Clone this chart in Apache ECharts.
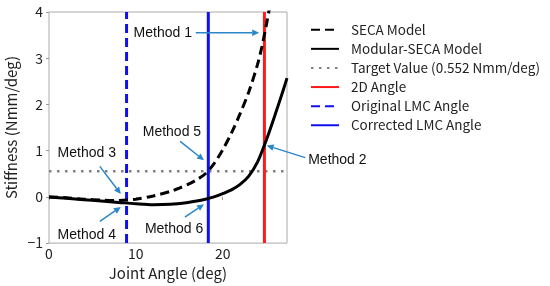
<!DOCTYPE html>
<html><head><meta charset="utf-8">
<script src="https://cdn.jsdelivr.net/npm/echarts@6/dist/echarts.min.js"></script>
<style>html,body{margin:0;padding:0;background:#fff}#c{width:550px;height:286px}</style>
</head><body><div id="c"></div>
<script>
// Data
const secaX = [0, 2, 4, 6, 8, 10, 12, 14, 15, 16, 17, 18, 19, 20, 21, 22, 23, 24, 24.5, 25, 25.4];
const secaY = [0, -0.02, -0.05, -0.07, -0.08, -0.05, 0.02, 0.12, 0.19, 0.27, 0.37, 0.5, 0.72, 1.02, 1.38, 1.8, 2.27, 2.86, 3.24, 3.7, 4.1];
const modX = [0, 2, 4, 6, 8, 10, 12, 14, 16, 17, 18, 19, 20, 21, 22, 23, 24, 25, 26, 27, 27.4];
const modY = [0, -0.03, -0.06, -0.09, -0.12, -0.15, -0.17, -0.16, -0.12, -0.09, -0.05, 0.0, 0.07, 0.15, 0.27, 0.45, 0.75, 1.22, 1.76, 2.33, 2.57];
const targetValue = 0.552;
const angle2D = 24.8;
const originalLMC = 8.93;
const correctedLMC = 18.34;
const xTicks = [0, 10, 20];
const yTicks = [-1, 0, 1, 2, 3, 4];
const xRange = [0, 27.4];
const yRange = [-1, 4];
// Annotation texts and arrow points, in data coordinates
const methodNames = ['Method 1', 'Method 2', 'Method 3', 'Method 4', 'Method 5', 'Method 6'];
const methodTextPos = [[13.1, 3.55], [33.2, 0.79], [4.35, 0.94], [4.35, -0.83], [14.15, 1.41], [14.4, -0.70]];
const methodArrowFrom = [[16.9, 3.55], [29.5, 0.85], [5.85, 0.66], [5.85, -0.53], [15.1, 1.2], [15.65, -0.44]];
const methodArrowTo = [[24.2, 3.55], [25.06, 1.11], [8.27, 0.06], [8.27, -0.22], [17.85, 0.79], [17.85, -0.16]];

const zip = (xs, ys) => xs.map((x, i) => [x, ys[i]]);
const fontMain = '"Noto Sans CJK JP", "Noto Sans", sans-serif';
const arrowColor = '#2a86c8';

const chart = echarts.init(document.getElementById('c'), null, {renderer: 'canvas'});
chart.setOption({
  animation: false,
  backgroundColor: '#fff',
  grid: {left: 49, top: 12, right: 263, bottom: 42, show: true, borderColor: '#aaaaaa', borderWidth: 1},
  legend: {
    orient: 'vertical', left: 305, top: 18, itemWidth: 28, itemHeight: 14, itemGap: 5.6,
    itemStyle: {color: 'rgba(0,0,0,0)', borderColor: 'rgba(0,0,0,0)', borderWidth: 0},
    textStyle: {fontFamily: fontMain, fontSize: 13.5, color: '#222', padding: [0, 0, 0, 7]},
    data: ['SECA Model', 'Modular-SECA Model', 'Target Value (0.552 Nmm/deg)', '2D Angle', 'Original LMC Angle', 'Corrected LMC Angle']
  },
  xAxis: {
    type: 'value', min: xRange[0], max: xRange[1], interval: 10,
    name: 'Joint Angle (deg)', nameLocation: 'middle', nameGap: 21,
    nameTextStyle: {fontFamily: fontMain, fontSize: 15, color: '#222'},
    axisLine: {show: false}, splitLine: {show: false},
    axisTick: {show: true, length: 3, lineStyle: {color: '#999'}},
    axisLabel: {fontFamily: fontMain, fontSize: 14, color: '#222', margin: 4,
      showMaxLabel: false, formatter: v => xTicks.includes(v) ? String(v) : ''}
  },
  yAxis: {
    type: 'value', min: yRange[0], max: yRange[1], interval: 1,
    name: 'Stiffness (Nmm/deg)', nameLocation: 'middle', nameGap: 30,
    nameTextStyle: {fontFamily: fontMain, fontSize: 15, color: '#222'},
    axisLine: {show: false}, splitLine: {show: false},
    axisTick: {show: true, length: 3, lineStyle: {color: '#999'}},
    axisLabel: {fontFamily: fontMain, fontSize: 14, color: '#222', margin: 6,
      formatter: v => yTicks.includes(v) ? (v < 0 ? '\u2212' + Math.abs(v) : String(v)) : ''}
  },
  series: [
    {name: 'SECA Model', type: 'line', data: zip(secaX, secaY), symbol: 'none', smooth: 0.3, z: 4,
      lineStyle: {color: '#000', width: 3, type: [9, 5]}, itemStyle: {color: '#000'}},
    {name: 'Modular-SECA Model', type: 'line', data: zip(modX, modY), symbol: 'none', smooth: 0.3, z: 4,
      lineStyle: {color: '#000', width: 3}, itemStyle: {color: '#000'}},
    {name: 'Target Value (0.552 Nmm/deg)', type: 'line', data: [[xRange[0], targetValue], [xRange[1], targetValue]], symbol: 'none', z: 2,
      lineStyle: {color: '#808080', width: 2.5, type: [2.5, 5.5]}, itemStyle: {color: '#808080'}},
    {name: '2D Angle', type: 'line', data: [[angle2D, yRange[0]], [angle2D, yRange[1]]], symbol: 'none', z: 3,
      lineStyle: {color: '#ff1a1a', width: 3}, itemStyle: {color: '#ff1a1a'}},
    {name: 'Original LMC Angle', type: 'line', data: [[originalLMC, yRange[0]], [originalLMC, yRange[1]]], symbol: 'none', z: 3,
      lineStyle: {color: '#1010ee', width: 3, type: [9, 5]}, itemStyle: {color: '#1010ee'}},
    {name: 'Corrected LMC Angle', type: 'line', data: [[correctedLMC, yRange[0]], [correctedLMC, yRange[1]]], symbol: 'none', z: 3,
      lineStyle: {color: '#1010ee', width: 3}, itemStyle: {color: '#1010ee'}}
  ]
});

// Annotations (text + arrows), positioned through the chart's own axes
function drawAnnotations() {
  const toPx = p => chart.convertToPixel({gridIndex: 0}, p);
  const els = [];
  methodNames.forEach((name, i) => {
    const t = toPx(methodTextPos[i]);
    els.push({type: 'text', x: t[0], y: t[1], z: 100, silent: true,
      style: {text: name, fill: '#111', font: '14px "Liberation Sans", Arial, sans-serif', align: 'center', verticalAlign: 'middle'}});
    const a = toPx(methodArrowFrom[i]);
    const b = toPx(methodArrowTo[i]);
    const dx = b[0] - a[0], dy = b[1] - a[1];
    const len = Math.hypot(dx, dy), ux = dx / len, uy = dy / len;
    const hl = 7, hw = 3.2;
    const bx = b[0] - ux * hl, by = b[1] - uy * hl;
    els.push({type: 'line', z: 99, silent: true,
      shape: {x1: a[0], y1: a[1], x2: bx, y2: by},
      style: {stroke: arrowColor, lineWidth: 1.5}});
    els.push({type: 'polygon', z: 99, silent: true,
      shape: {points: [[b[0], b[1]], [bx - uy * hw, by + ux * hw], [bx + uy * hw, by - ux * hw]]},
      style: {fill: arrowColor}});
  });
  chart.setOption({graphic: els});
}
drawAnnotations();
</script></body></html>
